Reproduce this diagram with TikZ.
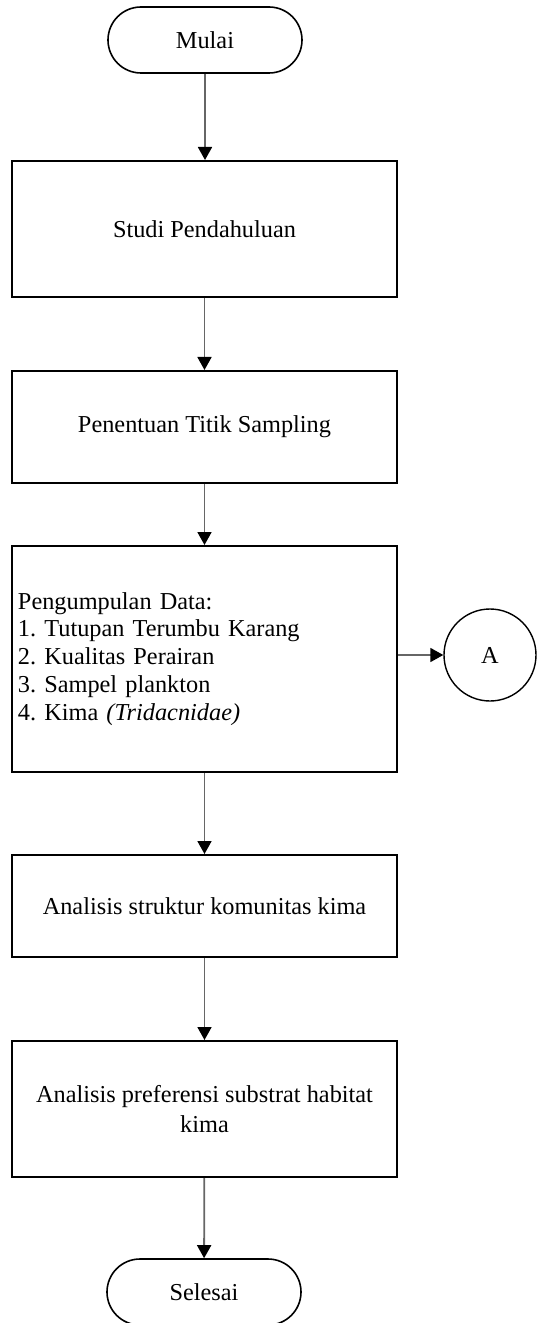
\documentclass[tikz,border=0pt]{standalone}
\usepackage{fontspec}
\setmainfont{Liberation Serif}
\usetikzlibrary{arrows.meta}
\frenchspacing
\begin{document}
\begin{tikzpicture}[x=0.5bp,y=-0.5bp,
  every node/.style={font=\fontsize{12.2}{14}\selectfont},
  terminal/.style={draw=black, line width=0.8bp, rounded corners=16.5bp,
    minimum width=97bp, minimum height=33bp, inner sep=0pt},
  procbox/.style={draw=black, line width=1bp, minimum width=192.5bp,
    inner sep=0pt, align=center},
  connector/.style={draw=black!60, line width=0.9bp,
    -{Triangle[width=7bp,length=6.5bp,color=black]}},
  connectorcirc/.style={draw=black, line width=0.7bp, minimum size=46bp, inner sep=0pt, circle}
]
\useasboundingbox (0,0) rectangle (537,1323);
\node[terminal] (mulai) at (205,40) {Mulai};
\node[procbox, minimum height=68bp] (studi) at (204.5,229) {Studi Pendahuluan};
\node[procbox, minimum height=56bp] (penentuan) at (204.5,427) {Penentuan Titik Sampling};
\node[procbox, minimum height=113bp, text width=186.5bp, inner xsep=3bp, align=left] (data) at (204.5,659)
  {Pengumpulan Data:\\1. Tutupan Terumbu Karang\\2. Kualitas Perairan\\3. Sampel plankton\\4. Kima \textit{(Tridacnidae)}};
\node[connectorcirc] (A) at (490,655) {A};
\node[procbox, minimum height=51bp] (struktur) at (204.5,906) {Analisis struktur komunitas kima};
\node[procbox, minimum height=68bp, font=\fontsize{12.2}{15}\selectfont] (preferensi) at (204.5,1109) {Analisis preferensi substrat habitat\\kima};
\node[terminal] (selesai) at (204,1292) {Selesai};
\draw[connector] (mulai.south) -- (mulai.south |- studi.north);
\draw[connector] (studi) -- (penentuan);
\draw[connector] (penentuan) -- (data);
\draw[connector] (data.east |- A.west) -- (A.west);
\draw[connector] (data) -- (struktur);
\draw[connector] (struktur) -- (preferensi);
\draw[connector] (preferensi) -- (selesai);
\end{tikzpicture}
\end{document}
